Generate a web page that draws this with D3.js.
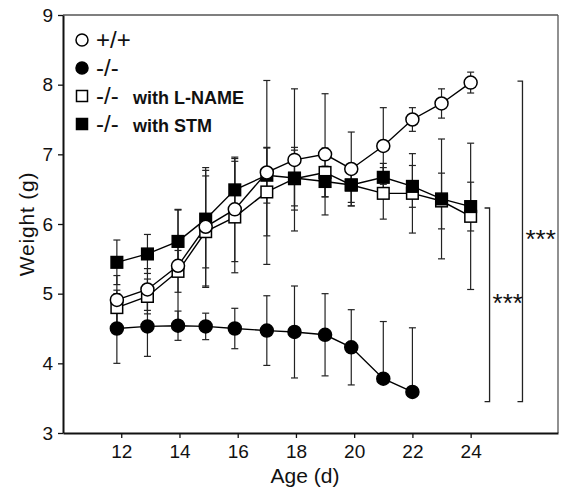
<!DOCTYPE html>
<html>
<head>
<meta charset="utf-8">
<script src="https://cdn.jsdelivr.net/npm/d3@7"></script>
<style>
  body { margin: 0; background: #fff; }
  text { font-family: "Liberation Sans", Arial, sans-serif; fill: #111; }
</style>
</head>
<body>
<div id="chart"></div>
<script>
// Body weight by age, four groups (mean ± SD)

// age positions (days), as placed on the original figure
const ages = [11.85, 12.9, 13.95, 14.9, 15.9, 17, 17.95, 19, 19.9, 21, 22, 23, 24];

const wtMean  = [4.91, 5.06, 5.40, 5.96, 6.21, 6.74, 6.92, 7.00, 6.79, 7.12, 7.50, 7.73, 8.03];
const wtSd    = [0.35, 0.30, 0.80, 0.85, 0.75, 1.32, 1.02, 0.87, 0.53, 0.55, 0.17, 0.21, 0.15];

const koMean  = [4.50, 4.53, 4.54, 4.53, 4.50, 4.47, 4.45, 4.41, 4.23, 3.78, 3.59];
const koSd    = [0.50, 0.43, 0.21, 0.19, 0.29, 0.50, 0.66, 0.59, 0.54, 0.82, 0.92];

const lnameMean = [4.80, 4.96, 5.32, 5.89, 6.10, 6.46, 6.65, 6.74, 6.56, 6.44, 6.44, 6.33, 6.11];
const lnameSd   = [0.25, 0.25, 0.30, 0.80, 0.80, 0.63, 0.45, 0.35, 0.30, 0.37, 0.57, 0.40, 1.05];

const stmMean = [5.45, 5.57, 5.75, 6.07, 6.49, 6.70, 6.66, 6.61, 6.56, 6.67, 6.54, 6.36, 6.25];
const stmSd   = [0.32, 0.28, 0.46, 0.70, 0.45, 0.40, 0.40, 0.22, 0.25, 0.20, 0.30, 0.86, 0.35];

// significance brackets
const bracketAge    = [24.65, 25.78];
const bracketTop    = [6.23, 8.05];
const bracketBottom = [3.45, 3.45];
const bracketLabel  = ["***", "***"];

const yTicks = [3, 4, 5, 6, 7, 8, 9];
const xTicks = [12, 14, 16, 18, 20, 22, 24];

const W = 561, H = 493;
const plotL = 63, plotR = 558, plotT = 15, plotB = 433;

const svg = d3.select("#chart").append("svg")
  .attr("width", W)
  .attr("height", H);

const x = d3.scaleLinear().domain([10, 27]).range([plotL, plotR]);
const y = d3.scaleLinear().domain([3, 9]).range([plotB, plotT]);

// frame (top / right are thin grey)
svg.append("line")
  .attr("x1", plotL).attr("x2", plotR).attr("y1", plotT).attr("y2", plotT)
  .attr("stroke", "#555").attr("stroke-width", 1.3);
svg.append("line")
  .attr("x1", plotR).attr("x2", plotR).attr("y1", plotT).attr("y2", plotB)
  .attr("stroke", "#555").attr("stroke-width", 1.3);

// axes
const yAxis = svg.append("g")
  .attr("transform", `translate(${plotL},0)`)
  .call(d3.axisLeft(y).tickValues(yTicks).tickFormat(d3.format("d"))
    .tickSize(5).tickPadding(5).tickSizeOuter(0));
const xAxis = svg.append("g")
  .attr("transform", `translate(0,${plotB})`)
  .call(d3.axisBottom(x).tickValues(xTicks).tickFormat(d3.format("d"))
    .tickSize(5).tickPadding(7).tickSizeOuter(0));

[xAxis, yAxis].forEach(g => {
  g.select(".domain").attr("stroke", "#111").attr("stroke-width", 2);
  g.selectAll(".tick line").attr("stroke", "#111").attr("stroke-width", 1.3);
  g.selectAll(".tick text")
    .style("font-family", '"Liberation Sans", Arial, sans-serif')
    .style("font-size", "19px")
    .attr("fill", "#111");
});

// axis titles
svg.append("text")
  .attr("x", 305)
  .attr("y", 483)
  .attr("text-anchor", "middle")
  .style("font-size", "21px")
  .text("Age (d)");

svg.append("text")
  .attr("transform", "translate(34,224) rotate(-90)")
  .attr("text-anchor", "middle")
  .style("font-size", "21px")
  .style("letter-spacing", "0.8px")
  .text("Weight (g)");

// build series
function rows(mean, sd) {
  return mean.map((m, i) => ({ age: ages[i], m: m, sd: sd[i] }));
}
const series = [
  { name: "lname", data: rows(lnameMean, lnameSd), shape: "square", fill: "#fff" },
  { name: "stm",   data: rows(stmMean, stmSd),     shape: "square", fill: "#000" },
  { name: "ko",    data: rows(koMean, koSd),       shape: "circle", fill: "#000" },
  { name: "wt",    data: rows(wtMean, wtSd),       shape: "circle", fill: "#fff" }
];

const line = d3.line().x(d => x(d.age)).y(d => y(d.m));
const cap = 3.5;

// error bars (lower half only drawn when it stays above the axis floor)
series.forEach(s => {
  const g = svg.append("g").attr("stroke", "#222").attr("stroke-width", 1.2);
  s.data.forEach(d => {
    const cx = x(d.age);
    const hi = d.m + d.sd, lo = d.m - d.sd;
    g.append("line").attr("x1", cx).attr("x2", cx).attr("y1", y(d.m)).attr("y2", y(hi));
    g.append("line").attr("x1", cx - cap).attr("x2", cx + cap).attr("y1", y(hi)).attr("y2", y(hi));
    if (lo >= 3) {
      g.append("line").attr("x1", cx).attr("x2", cx).attr("y1", y(d.m)).attr("y2", y(lo));
      g.append("line").attr("x1", cx - cap).attr("x2", cx + cap).attr("y1", y(lo)).attr("y2", y(lo));
    }
  });
});

// connecting lines
series.forEach(s => {
  svg.append("path")
    .datum(s.data)
    .attr("d", line)
    .attr("fill", "none")
    .attr("stroke", "#000")
    .attr("stroke-width", 1.4);
});

// markers
function drawMarker(g, shape, fill, cx, cy, size) {
  if (shape === "circle") {
    g.append("circle")
      .attr("cx", cx).attr("cy", cy).attr("r", size)
      .attr("fill", fill).attr("stroke", "#000").attr("stroke-width", 1.5);
  } else {
    g.append("rect")
      .attr("x", cx - size).attr("y", cy - size)
      .attr("width", size * 2).attr("height", size * 2)
      .attr("fill", fill).attr("stroke", "#000").attr("stroke-width", 1.5);
  }
}

series.forEach(s => {
  const g = svg.append("g");
  s.data.forEach(d => {
    drawMarker(g, s.shape, s.fill, x(d.age), y(d.m), s.shape === "circle" ? 6.5 : 5.8);
  });
});

// significance brackets
bracketAge.forEach((a, i) => {
  const bx = x(a);
  const g = svg.append("g").attr("stroke", "#222").attr("stroke-width", 1.3).attr("fill", "none");
  g.append("path")
    .attr("d", `M${bx - 5},${y(bracketTop[i])}H${bx}V${y(bracketBottom[i])}H${bx - 5}`);
  const midY = (y(bracketTop[i]) + y(bracketBottom[i])) / 2;
  svg.append("text")
    .attr("x", bx + 3)
    .attr("y", midY + 7)
    .style("font-size", "26px")
    .text(bracketLabel[i]);
});

// legend
const legendRows = [
  { shape: "circle", fill: "#fff", main: "+/+", extra: "" },
  { shape: "circle", fill: "#000", main: "-/-", extra: "" },
  { shape: "square", fill: "#fff", main: "-/-", extra: "with L-NAME" },
  { shape: "square", fill: "#000", main: "-/-", extra: "with STM" }
];
const legend = svg.append("g");
legendRows.forEach((r, i) => {
  const ly = 40 + i * 28;
  drawMarker(legend, r.shape, r.fill, 82, ly, r.shape === "circle" ? 6 : 5.5);
  const t = legend.append("text")
    .attr("x", 96)
    .attr("y", ly + 8);
  t.append("tspan")
    .style("font-size", "24px")
    .text(r.main);
  if (r.extra) {
    t.append("tspan")
      .attr("x", 133)
      .style("font-size", "18px")
      .style("font-weight", "bold")
      .text(r.extra);
  }
});
</script>
</body>
</html>
